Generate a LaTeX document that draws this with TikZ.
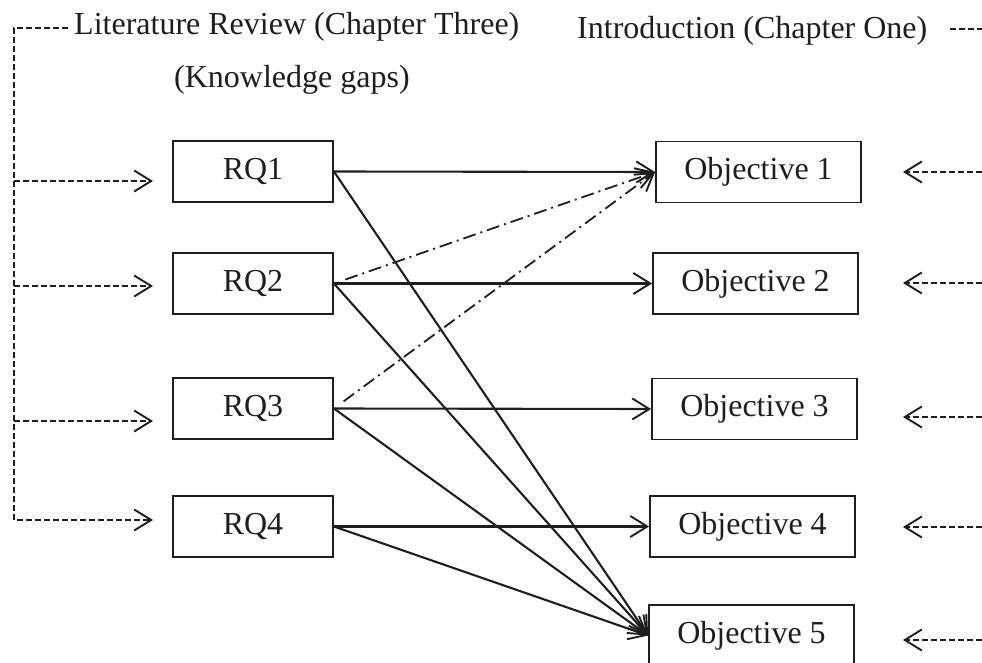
\documentclass[tikz,border=0pt]{standalone}
\usepackage{fontspec}
\setmainfont{Liberation Serif}
\usetikzlibrary{arrows.meta}
\definecolor{ink}{HTML}{1E1E1E}
\begin{document}
\begin{tikzpicture}[x=1pt,y=-1pt,
  every node/.style={font=\fontsize{32pt}{38pt}\selectfont, text=ink},
  rqbox/.style={draw=ink, line width=1.8pt, minimum width=160pt, minimum height=61pt, inner sep=0pt},
  obbox/.style={draw=ink, line width=1.8pt, minimum width=205pt, minimum height=61pt, inner sep=0pt},
  lbl/.style={inner sep=0pt, anchor=base west},
  feed/.style={draw=ink, line width=1.8pt, dash pattern=on 6pt off 3pt},
  barb/.style={-{Straight Barb[length=17pt,width=21pt,line width=1.9pt]}},
  link/.style={draw=ink, line width=2.1pt, barb},
  alt/.style={draw=ink, line width=1.8pt, dash pattern=on 13pt off 5pt on 2pt off 5pt, barb}
]
\useasboundingbox (0,0) rectangle (982,663);

% titles
\node[lbl] (lit) at (74,35) {Literature Review (Chapter Three)};
\node[lbl] (gaps) at (174,88) {(Knowledge gaps)};
\node[lbl] (intro) at (577,39) {Introduction (Chapter One)};

% RQ boxes
\node[rqbox] (rq1) at (253,171.5) {RQ1};
\node[rqbox] (rq2) at (253,283.5) {RQ2};
\node[rqbox] (rq3) at (253,408.5) {RQ3};
\node[rqbox] (rq4) at (253,526.5) {RQ4};

% Objective boxes
\node[obbox] (ob1) at (758.5,172) {Objective 1};
\node[obbox] (ob2) at (755.5,283.5) {Objective 2};
\node[obbox] (ob3) at (754.5,409) {Objective 3};
\node[obbox] (ob4) at (752.5,526.5) {Objective 4};
\node[obbox] (ob5) at (751.5,635.5) {Objective 5};

% left feed (literature review)
\coordinate (ltop) at (68,28);
\coordinate (l1) at (14,181);  \coordinate (a1) at (153,181);
\coordinate (l2) at (14,286);  \coordinate (a2) at (153,286);
\coordinate (l3) at (14,421);  \coordinate (a3) at (153,421);
\coordinate (l4) at (14,520);  \coordinate (a4) at (153,520);
\draw[feed, barb] (ltop) -| (l4) -- (a4);
\draw[feed, barb] (l1) -- (a1);
\draw[feed, barb] (l2) -- (a2);
\draw[feed, barb] (l3) -- (a3);

% right feed (introduction)
\coordinate (r0a) at (950,29); \coordinate (r0b) at (982,29);
\draw[feed] (r0a) -- (r0b);
\coordinate (r1) at (982,172);   \coordinate (b1) at (903,172);
\coordinate (r2) at (982,283);   \coordinate (b2) at (903,283);
\coordinate (r3) at (982,417);   \coordinate (b3) at (903,417);
\coordinate (r4) at (982,527);   \coordinate (b4) at (903,527);
\coordinate (r5) at (982,640);   \coordinate (b5) at (903,640);
\draw[feed, barb] (r1) -- (b1);
\draw[feed, barb] (r2) -- (b2);
\draw[feed, barb] (r3) -- (b3);
\draw[feed, barb] (r4) -- (b4);
\draw[feed, barb] (r5) -- (b5);

% solid links
\draw[link] (rq1.east) -- (ob1.west);
\draw[link] (rq1.east) -- (ob5.west);
\draw[link] (rq2.east) -- (ob2.west);
\draw[link] (rq2.east) -- (ob5.west);
\draw[link] (rq3.east) -- (ob3.west);
\draw[link] (rq3.east) -- (ob5.west);
\draw[link] (rq4.east) -- (ob4.west);
\draw[link] (rq4.east) -- (ob5.west);

% dash-dot links
\draw[alt, shorten <=12pt] (rq2.east) -- (ob1.west);
\draw[alt, shorten <=12pt] (rq3.east) -- (ob1.west);
\end{tikzpicture}
\end{document}
